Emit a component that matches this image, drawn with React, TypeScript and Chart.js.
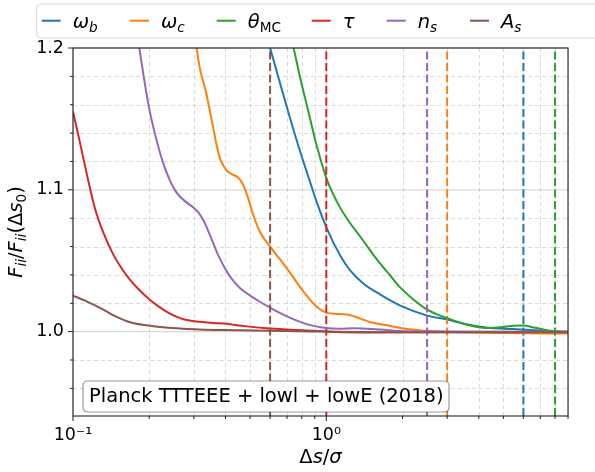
import React, { useEffect, useRef } from 'react';
import { Chart, registerables } from 'chart.js';
Chart.register(...registerables);

// ---------- data ----------
const WB_X = [0.58, 0.6, 0.658, 0.721, 0.789, 0.865, 0.919, 1.0065, 1.136, 1.244, 1.404, 1.635, 1.961, 2.5, 3.0, 3.5, 4.31, 5.5, 6.4, 7.91, 9.0];
const WB_Y = [1.209, 1.2, 1.1746, 1.15, 1.1268, 1.1049, 1.0908, 1.0725, 1.0535, 1.043, 1.0338, 1.0261, 1.0183, 1.0113, 1.0085, 1.0056, 1.0028, 1.0018, 1.0012, 1.0002, 1.0];

const WC_X = [0.3, 0.308, 0.3377, 0.3576, 0.3709, 0.381, 0.3927, 0.405, 0.425, 0.4447, 0.4642, 0.486, 0.516, 0.548, 0.6, 0.658, 0.721, 0.813, 0.919, 1.0065, 1.102, 1.207, 1.363, 1.492, 1.685, 2.084, 2.576, 3.385, 4.87, 9.0];
const WC_Y = [1.227, 1.2, 1.1662, 1.1437, 1.1296, 1.1218, 1.1169, 1.1134, 1.1109, 1.1092, 1.1053, 1.0968, 1.0817, 1.0701, 1.0599, 1.0507, 1.0412, 1.0282, 1.0173, 1.0132, 1.0125, 1.012, 1.0092, 1.0066, 1.0049, 1.0019, 1.0004, 0.9996, 0.999, 0.9986];

const TH_X = [0.72, 0.743, 0.789, 0.839, 0.919, 1.0065, 1.102, 1.207, 1.363, 1.586, 1.791, 1.961, 2.213, 2.5, 3.0, 3.6, 4.31, 4.87, 5.5, 6.0, 6.4, 7.34, 7.91, 9.0];
const TH_Y = [1.212, 1.2, 1.1789, 1.1592, 1.1303, 1.107, 1.0915, 1.0796, 1.0669, 1.0507, 1.0394, 1.031, 1.0225, 1.0155, 1.0095, 1.0049, 1.0026, 1.003, 1.0042, 1.0043, 1.0035, 1.0012, 1.0003, 0.9998];

const TAU_X = [0.1, 0.1066, 0.1133, 0.1222, 0.1314, 0.1443, 0.1562, 0.168, 0.184, 0.2015, 0.2168, 0.2346, 0.253, 0.2729, 0.2953, 0.3177, 0.3576, 0.405, 0.4436, 0.486, 0.565, 0.721, 0.891, 1.0065, 1.136, 1.448, 2.352, 9.0];
const TAU_Y = [1.1551, 1.1331, 1.1113, 1.0866, 1.0703, 1.0543, 1.0442, 1.0365, 1.0288, 1.0223, 1.018, 1.014, 1.0109, 1.0087, 1.0075, 1.0069, 1.0061, 1.0055, 1.0045, 1.0037, 1.0026, 1.0014, 1.0007, 1.0001, 0.9995, 0.9994, 0.9996, 0.9997];

const NS_X = [0.178, 0.1828, 0.1891, 0.1967, 0.2043, 0.2142, 0.2268, 0.2417, 0.253, 0.2648, 0.2822, 0.2988, 0.3119, 0.3273, 0.3417, 0.3585, 0.3709, 0.381, 0.405, 0.429, 0.457, 0.5006, 0.5483, 0.6, 0.658, 0.721, 0.789, 0.865, 0.9757, 1.136, 1.282, 1.448, 1.635, 2.084, 3.09, 9.0];
const NS_Y = [1.214, 1.1998, 1.1827, 1.1641, 1.1493, 1.1345, 1.119, 1.1063, 1.0996, 1.0951, 1.0908, 1.0875, 1.0842, 1.0785, 1.0711, 1.062, 1.0556, 1.0511, 1.0423, 1.0359, 1.0306, 1.0254, 1.0209, 1.0169, 1.013, 1.0097, 1.0069, 1.0046, 1.0028, 1.0021, 1.0024, 1.0021, 1.0015, 1.0003, 1.0, 0.9998];

const AS_X = [0.1, 0.1115, 0.1318, 0.1466, 0.168, 0.2077, 0.2813, 0.457, 0.789, 1.635, 9.0];
const AS_Y = [1.0254, 1.0218, 1.0155, 1.0109, 1.0066, 1.0038, 1.0019, 1.0009, 1.0003, 0.9996, 0.9996];

// fiducial step sizes (dashed vertical lines), same order as the series
const VLINE_X = [6.0, 3.0, 8.0, 1.0, 2.5, 0.6];

const SERIES_X = [WB_X, WC_X, TH_X, TAU_X, NS_X, AS_X];
const SERIES_Y = [WB_Y, WC_Y, TH_Y, TAU_Y, NS_Y, AS_Y];
const COLORS = ['#1f77b4', '#ff7f0e', '#2ca02c', '#d62728', '#9467bd', '#8c564b'];

type Run = { t: string; it?: boolean; sub?: boolean; sup?: boolean };
const LEGEND_LABELS: Run[][] = [
  [{ t: 'ω', it: true }, { t: 'b', it: true, sub: true }],
  [{ t: 'ω', it: true }, { t: 'c', it: true, sub: true }],
  [{ t: 'θ', it: true }, { t: 'MC', sub: true }],
  [{ t: 'τ', it: true }],
  [{ t: 'n', it: true }, { t: 's', it: true, sub: true }],
  [{ t: 'A', it: true }, { t: 's', it: true, sub: true }],
];
const SERIES_NAMES = ['ω_b', 'ω_c', 'θ_MC', 'τ', 'n_s', 'A_s'];

const X_TICKS = [0.1, 1];
const X_TICK_LABELS = ['10⁻¹', '10⁰'];
const X_MINOR_TICKS = [0.2, 0.3, 0.4, 0.5, 0.6, 0.7, 0.8, 0.9, 2, 3, 4, 5, 6, 7, 8, 9];
const Y_TICKS = [1.0, 1.1, 1.2];
const Y_MINOR_TICKS = [0.96, 0.98, 1.02, 1.04, 1.06, 1.08, 1.12, 1.14, 1.16, 1.18];

const X_MIN = 0.1, X_MAX = 9.0, Y_MIN = 0.9405, Y_MAX = 1.2;

const X_TITLE: Run[] = [{ t: 'Δ' }, { t: 's', it: true }, { t: '/' }, { t: 'σ', it: true }];
const Y_TITLE: Run[] = [
  { t: 'F', it: true }, { t: 'ii', it: true, sub: true }, { t: '/' },
  { t: 'F', it: true }, { t: 'ii', it: true, sub: true }, { t: '(' }, { t: 'Δ' },
  { t: 's', it: true }, { t: '0', sub: true }, { t: ')' },
];
const BOX_TEXT = 'Planck TTTEEE + lowl + lowE (2018)';

// ---------- drawing helpers ----------
const FAMILY = "'DejaVu Sans'";
function runFont(r: Run, size: number) {
  const s = r.sub || r.sup ? size * 0.7 : size;
  return `${r.it ? 'italic ' : ''}${s}px ${FAMILY}`;
}
function runsWidth(ctx: CanvasRenderingContext2D, runs: Run[], size: number) {
  let w = 0;
  for (const r of runs) { ctx.font = runFont(r, size); w += ctx.measureText(r.t).width; }
  return w;
}
function drawRuns(ctx: CanvasRenderingContext2D, runs: Run[], x: number, y: number, size: number) {
  let cx = x;
  ctx.textBaseline = 'alphabetic';
  ctx.textAlign = 'left';
  for (const r of runs) {
    ctx.font = runFont(r, size);
    const dy = r.sub ? size * 0.22 : r.sup ? -size * 0.4 : 0;
    ctx.fillText(r.t, cx, y + dy);
    cx += ctx.measureText(r.t).width;
  }
}
function roundRect(ctx: CanvasRenderingContext2D, x: number, y: number, w: number, h: number, r: number) {
  ctx.beginPath();
  ctx.moveTo(x + r, y);
  ctx.lineTo(x + w - r, y);
  ctx.quadraticCurveTo(x + w, y, x + w, y + r);
  ctx.lineTo(x + w, y + h - r);
  ctx.quadraticCurveTo(x + w, y + h, x + w - r, y + h);
  ctx.lineTo(x + r, y + h);
  ctx.quadraticCurveTo(x, y + h, x, y + h - r);
  ctx.lineTo(x, y + r);
  ctx.quadraticCurveTo(x, y, x + r, y);
  ctx.closePath();
}

const LEGEND_SLOTS = [41.7, 130, 216.7, 311.7, 386.7, 470];
const LABEL_SIZE = 19.5;

const decorPlugin = {
  id: 'decor',
  beforeDatasetsDraw(chart: any) {
    const { ctx, chartArea: a, scales } = chart;
    const xs = scales.x, ys = scales.y;
    ctx.save();
    ctx.lineWidth = 1;
    ctx.strokeStyle = 'rgba(0,0,0,0.14)';
    ctx.setLineDash([4, 3]);
    for (const v of X_MINOR_TICKS) {
      const px = Math.round(xs.getPixelForValue(v)) + 0.5;
      ctx.beginPath(); ctx.moveTo(px, a.top); ctx.lineTo(px, a.bottom); ctx.stroke();
    }
    for (const v of Y_MINOR_TICKS) {
      const py = Math.round(ys.getPixelForValue(v)) + 0.5;
      ctx.beginPath(); ctx.moveTo(a.left, py); ctx.lineTo(a.right, py); ctx.stroke();
    }
    ctx.setLineDash([]);
    ctx.strokeStyle = 'rgba(0,0,0,0.15)';
    ctx.lineWidth = 1.3;
    for (const v of X_TICKS) {
      const px = xs.getPixelForValue(v);
      ctx.beginPath(); ctx.moveTo(px, a.top); ctx.lineTo(px, a.bottom); ctx.stroke();
    }
    for (const v of Y_TICKS) {
      const py = ys.getPixelForValue(v);
      ctx.beginPath(); ctx.moveTo(a.left, py); ctx.lineTo(a.right, py); ctx.stroke();
    }
    ctx.restore();
  },
  afterDatasetsDraw(chart: any) {
    const { ctx, chartArea: a, scales } = chart;
    const xs = scales.x, ys = scales.y;
    ctx.save();
    // text box
    ctx.font = `${LABEL_SIZE}px ${FAMILY}`;
    const tw = ctx.measureText(BOX_TEXT).width;
    const tx = a.left + 16;
    roundRect(ctx, tx - 6, 381, tw + 11.5, 31, 5);
    ctx.fillStyle = '#ffffff';
    ctx.fill();
    ctx.strokeStyle = 'rgba(0,0,0,0.4)';
    ctx.lineWidth = 1.2;
    ctx.stroke();
    ctx.fillStyle = '#000';
    ctx.textBaseline = 'alphabetic';
    ctx.textAlign = 'left';
    ctx.fillText(BOX_TEXT, tx, 401.5);

    // frame
    ctx.strokeStyle = '#222';
    ctx.lineWidth = 1.1;
    ctx.strokeRect(a.left, a.top, a.right - a.left, a.bottom - a.top);

    // ticks
    ctx.lineWidth = 1;
    ctx.strokeStyle = '#222';
    for (const v of X_TICKS) {
      const px = xs.getPixelForValue(v);
      ctx.beginPath(); ctx.moveTo(px, a.bottom); ctx.lineTo(px, a.bottom + 5); ctx.stroke();
    }
    for (const v of X_MINOR_TICKS) {
      const px = xs.getPixelForValue(v);
      ctx.beginPath(); ctx.moveTo(px, a.bottom); ctx.lineTo(px, a.bottom + 3); ctx.stroke();
    }
    for (const v of Y_TICKS) {
      const py = ys.getPixelForValue(v);
      ctx.beginPath(); ctx.moveTo(a.left - 5, py); ctx.lineTo(a.left, py); ctx.stroke();
    }
    for (const v of Y_MINOR_TICKS) {
      const py = ys.getPixelForValue(v);
      ctx.beginPath(); ctx.moveTo(a.left - 3, py); ctx.lineTo(a.left, py); ctx.stroke();
    }

    // axis titles
    ctx.fillStyle = '#000';
    const xw = runsWidth(ctx, X_TITLE, LABEL_SIZE);
    drawRuns(ctx, X_TITLE, (a.left + a.right) / 2 - xw / 2, 463, LABEL_SIZE);
    const yw = runsWidth(ctx, Y_TITLE, LABEL_SIZE);
    ctx.save();
    ctx.translate(21.5, (a.top + a.bottom) / 2);
    ctx.rotate(-Math.PI / 2);
    drawRuns(ctx, Y_TITLE, -yw / 2, 0, LABEL_SIZE);
    ctx.restore();

    // legend
    roundRect(ctx, 36.7, 4, 600, 34, 4);
    ctx.fillStyle = 'rgba(255,255,255,0.85)';
    ctx.fill();
    ctx.strokeStyle = '#d6d6d6';
    ctx.lineWidth = 1;
    ctx.stroke();
    LEGEND_LABELS.forEach((runs, i) => {
      const s = LEGEND_SLOTS[i];
      ctx.strokeStyle = COLORS[i];
      ctx.lineWidth = 2;
      ctx.beginPath(); ctx.moveTo(s, 20.7); ctx.lineTo(s + 19, 20.7); ctx.stroke();
      ctx.fillStyle = '#000';
      drawRuns(ctx, runs, s + 31, 28, LABEL_SIZE);
    });
    ctx.restore();
  },
};

export default function App() {
  const ref = useRef<HTMLCanvasElement | null>(null);
  useEffect(() => {
    document.body.style.margin = '0';
    if (!ref.current) return;
    const datasets: any[] = [];
    const n = SERIES_X.length;
    for (let i = 0; i < n; i++) {
      datasets.push({
        label: SERIES_NAMES[i],
        data: SERIES_X[i].map((x, j) => ({ x, y: SERIES_Y[i][j] })),
        borderColor: COLORS[i],
        backgroundColor: COLORS[i],
        borderWidth: 2,
        pointRadius: 0,
        cubicInterpolationMode: 'monotone',
        clip: 0,
        order: 2 * (n - i) - 1,
      });
      datasets.push({
        label: SERIES_NAMES[i] + ' step',
        data: [{ x: VLINE_X[i], y: 0.9 }, { x: VLINE_X[i], y: 1.3 }],
        borderColor: COLORS[i],
        borderWidth: 2,
        borderDash: [8, 3.5],
        pointRadius: 0,
        clip: 0,
        order: 2 * (n - i) - 2,
      });
    }
    const chart = new Chart(ref.current, {
      type: 'line',
      data: { datasets },
      options: {
        animation: false,
        responsive: false,
        devicePixelRatio: 1,
        layout: { padding: { left: 0, right: 27, top: 48, bottom: 0 } },
        plugins: { legend: { display: false }, tooltip: { enabled: false } },
        scales: {
          x: {
            type: 'logarithmic',
            min: X_MIN,
            max: X_MAX,
            grid: { display: false, drawTicks: false },
            border: { display: false },
            afterBuildTicks: (s: any) => { s.ticks = X_TICKS.map((v) => ({ value: v })); },
            afterFit: (s: any) => { s.height = 56; },
            ticks: {
              autoSkip: false,
              maxRotation: 0,
              padding: 9,
              color: '#000',
              font: { family: 'DejaVu Sans', size: 17.5 },
              callback: (v: any) => {
                const i = X_TICKS.findIndex((t) => Math.abs(t - Number(v)) < 1e-9);
                return i >= 0 ? X_TICK_LABELS[i] : '';
              },
            },
          },
          y: {
            type: 'linear',
            min: Y_MIN,
            max: Y_MAX,
            grid: { display: false, drawTicks: false },
            border: { display: false },
            afterBuildTicks: (s: any) => { s.ticks = Y_TICKS.map((v) => ({ value: v })); },
            afterFit: (s: any) => { s.width = 73; },
            ticks: {
              autoSkip: false,
              padding: 9,
              color: '#000',
              font: { family: 'DejaVu Sans', size: 17.5 },
              callback: (v: any) => Number(v).toFixed(1),
            },
          },
        },
      },
      plugins: [decorPlugin],
    } as any);
    return () => chart.destroy();
  }, []);
  return <canvas ref={ref} width={595} height={472} style={{ display: 'block' }} />;
}
